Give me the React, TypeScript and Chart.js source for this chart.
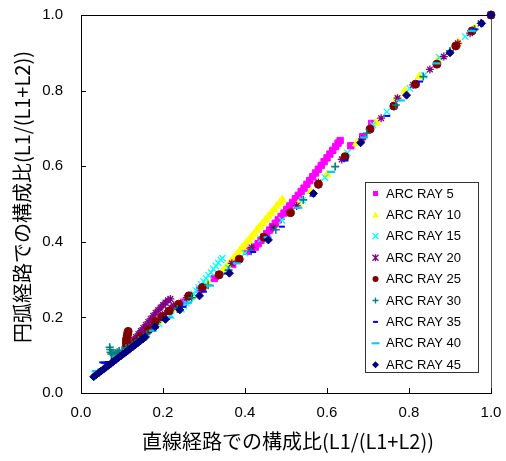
import React, { useEffect, useRef } from "react";
import { Chart, registerables } from "chart.js";
Chart.register(...registerables);

type Pt = [number, number];

const xTitle = "直線経路での構成比(L1/(L1+L2))";
const yTitle = "円弧経路での構成比(L1/(L1+L2))";
const tickValues = [0, 0.2, 0.4, 0.6, 0.8, 1.0];

const seriesNames = [
  "ARC RAY 5", "ARC RAY 10", "ARC RAY 15", "ARC RAY 20", "ARC RAY 25",
  "ARC RAY 30", "ARC RAY 35", "ARC RAY 40", "ARC RAY 45",
];

const ray5: Pt[] = [
  [0.2, 0.2], [0.25, 0.24], [0.29, 0.273], [0.325, 0.303], [0.37, 0.34], [0.405, 0.375],
  [0.425, 0.386], [0.432, 0.395], [0.439, 0.404], [0.446, 0.413], [0.453, 0.422], [0.46, 0.431],
  [0.467, 0.44], [0.474, 0.449], [0.481, 0.458], [0.488, 0.467], [0.495, 0.476], [0.502, 0.486],
  [0.509, 0.495], [0.516, 0.504], [0.523, 0.514], [0.53, 0.523], [0.537, 0.533], [0.544, 0.542],
  [0.551, 0.552], [0.558, 0.562], [0.565, 0.572], [0.572, 0.582], [0.579, 0.592], [0.586, 0.602],
  [0.593, 0.612], [0.6, 0.622], [0.607, 0.632], [0.614, 0.642], [0.621, 0.652], [0.627, 0.661],
  [0.632, 0.668], [0.658, 0.654], [0.687, 0.678], [0.709, 0.713], [1, 1],
];

const ray10: Pt[] = [
  [0.15, 0.155], [0.19, 0.19], [0.23, 0.222], [0.27, 0.255], [0.31, 0.29],
  [0.345, 0.322], [0.352, 0.33], [0.359, 0.339], [0.366, 0.348], [0.373, 0.357], [0.38, 0.367],
  [0.387, 0.376], [0.394, 0.385], [0.401, 0.394], [0.408, 0.403], [0.415, 0.412], [0.422, 0.421],
  [0.429, 0.431], [0.436, 0.44], [0.443, 0.449], [0.45, 0.458], [0.457, 0.467], [0.464, 0.476],
  [0.471, 0.485], [0.478, 0.495], [0.485, 0.504], [0.491, 0.511],
  [0.53, 0.5], [0.56, 0.533], [0.6, 0.578], [0.64, 0.625], [0.672, 0.66], [0.72, 0.715],
  [0.77, 0.78], [0.79, 0.8], [0.825, 0.837], [0.87, 0.88], [0.92, 0.928], [0.96, 0.965], [1, 1],
];

const ray15: Pt[] = [
  [0.13, 0.13], [0.16, 0.158], [0.19, 0.183], [0.22, 0.205],
  [0.245, 0.222], [0.251, 0.23], [0.257, 0.238], [0.263, 0.246], [0.269, 0.254], [0.275, 0.262],
  [0.281, 0.271], [0.287, 0.279], [0.293, 0.287], [0.299, 0.295], [0.305, 0.303], [0.311, 0.311],
  [0.317, 0.319], [0.323, 0.328], [0.329, 0.336], [0.335, 0.344], [0.341, 0.352], [0.345, 0.357],
  [0.36, 0.33], [0.4, 0.37], [0.44, 0.408], [0.49, 0.457], [0.54, 0.51], [0.595, 0.57],
  [0.65, 0.635], [0.712, 0.709], [0.746, 0.744], [0.802, 0.806], [0.837, 0.841], [0.874, 0.888],
  [0.937, 0.943], [0.975, 0.977], [1, 1],
];

const ray20: Pt[] = [
  [0.128, 0.14], [0.134, 0.148], [0.14, 0.156], [0.146, 0.164], [0.152, 0.172], [0.158, 0.18],
  [0.164, 0.188], [0.17, 0.196], [0.176, 0.204], [0.182, 0.212], [0.188, 0.219], [0.194, 0.226],
  [0.2, 0.233], [0.206, 0.239], [0.212, 0.245], [0.218, 0.249],
  [0.14, 0.145], [0.148, 0.153], [0.156, 0.161], [0.164, 0.169], [0.172, 0.177], [0.18, 0.185],
  [0.188, 0.193], [0.196, 0.201], [0.204, 0.209], [0.212, 0.217], [0.22, 0.225], [0.226, 0.232],
  [0.258, 0.252], [0.294, 0.277], [0.335, 0.31], [0.368, 0.343], [0.416, 0.385], [0.469, 0.438],
  [0.526, 0.495], [0.579, 0.557], [0.636, 0.618], [0.685, 0.672], [0.732, 0.727], [0.772, 0.78],
  [0.81, 0.815], [0.851, 0.856], [0.885, 0.89], [0.919, 0.925], [0.949, 0.952], [0.975, 0.978], [1, 1],
];

const ray25: Pt[] = [
  [0.115, 0.163], [0.114, 0.158], [0.113, 0.152], [0.112, 0.146], [0.111, 0.14], [0.111, 0.134],
  [0.111, 0.128], [0.112, 0.123], [0.116, 0.121], [0.121, 0.124], [0.126, 0.128],
  [0.132, 0.134], [0.145, 0.149], [0.165, 0.167], [0.181, 0.189], [0.198, 0.202], [0.215, 0.217],
  [0.238, 0.235], [0.263, 0.257], [0.296, 0.279], [0.337, 0.313], [0.386, 0.354], [0.446, 0.412],
  [0.511, 0.477], [0.579, 0.552], [0.644, 0.625], [0.705, 0.698], [0.763, 0.759], [0.816, 0.817],
  [0.868, 0.87], [0.914, 0.918], [0.954, 0.958], [1, 1],
];

const ray30: Pt[] = [
  [0.07, 0.121], [0.071, 0.115], [0.072, 0.108], [0.074, 0.103], [0.078, 0.104], [0.083, 0.106],
  [0.088, 0.108], [0.093, 0.111], [0.1, 0.113], [0.11, 0.119], [0.125, 0.128], [0.14, 0.14],
  [0.16, 0.156], [0.18, 0.172], [0.205, 0.196], [0.235, 0.222], [0.27, 0.252], [0.31, 0.285],
  [0.36, 0.325], [0.415, 0.375], [0.475, 0.432], [0.542, 0.511], [0.62, 0.599], [0.697, 0.687],
  [0.768, 0.762], [0.835, 0.837], [0.9, 0.905], [0.96, 0.962], [1, 1],
];

const ray35: Pt[] = [
  [0.052, 0.081], [0.056, 0.08], [0.06, 0.079], [0.065, 0.082], [0.08, 0.09], [0.1, 0.104],
  [0.12, 0.118], [0.145, 0.139], [0.175, 0.165], [0.21, 0.196], [0.25, 0.228], [0.3, 0.268],
  [0.355, 0.316], [0.42, 0.373], [0.49, 0.44], [0.565, 0.522], [0.645, 0.615], [0.747, 0.733],
  [0.827, 0.824], [0.9, 0.902], [0.96, 0.962], [1, 1],
];

const ray40: Pt[] = [
  [0.036, 0.058], [0.04, 0.058], [0.05, 0.063], [0.065, 0.072], [0.085, 0.088], [0.11, 0.108],
  [0.14, 0.135], [0.175, 0.165], [0.215, 0.2], [0.26, 0.238], [0.315, 0.284], [0.38, 0.343],
  [0.455, 0.412], [0.53, 0.49], [0.61, 0.585], [0.69, 0.676], [0.78, 0.774], [0.867, 0.872],
  [0.953, 0.958], [1, 1],
];

const ray45: Pt[] = [
  [0.031, 0.043], [0.037, 0.048], [0.043, 0.053], [0.049, 0.058], [0.055, 0.063], [0.061, 0.068],
  [0.067, 0.073], [0.073, 0.078], [0.079, 0.083], [0.085, 0.088], [0.091, 0.093], [0.097, 0.098],
  [0.103, 0.103], [0.109, 0.108], [0.115, 0.113], [0.121, 0.118], [0.127, 0.123], [0.133, 0.128],
  [0.139, 0.133], [0.145, 0.138], [0.151, 0.143], [0.157, 0.148],
  [0.181, 0.175], [0.206, 0.195], [0.241, 0.22], [0.289, 0.257], [0.362, 0.317], [0.457, 0.405],
  [0.567, 0.528], [0.682, 0.662], [0.794, 0.788], [0.9, 0.9], [0.977, 0.978], [1, 1],
];

const seriesData: Pt[][] = [ray5, ray10, ray15, ray20, ray25, ray30, ray35, ray40, ray45];

const seriesColors = ["#FF00FF", "#FFFF00", "#00FFFF", "#800080", "#800000", "#008080", "#0000FF", "#00CCFF", "#000080"];
const seriesStyles = ["rect", "triangle", "crossRot", "star", "circle", "cross", "line", "line", "rectRot"];
const seriesRadius = [4.5, 4.6, 4.5, 4, 4, 4, 3, 4, 4];
const seriesBorder = [1, 1, 1.3, 1.3, 1, 1.6, 2, 2.2, 1];

function drawLegendMarker(ctx: CanvasRenderingContext2D, style: string, color: string, x: number, y: number) {
  ctx.save();
  ctx.fillStyle = color;
  ctx.strokeStyle = color;
  ctx.lineWidth = 1.3;
  ctx.beginPath();
  const r = 3;
  switch (style) {
    case "rect":
      ctx.fillRect(x - 2.5, y - 2.5, 5, 5);
      break;
    case "triangle":
      ctx.moveTo(x, y - 3.5);
      ctx.lineTo(x + 3.2, y + 2.5);
      ctx.lineTo(x - 3.2, y + 2.5);
      ctx.closePath();
      ctx.fill();
      break;
    case "crossRot":
      ctx.moveTo(x - r, y - r); ctx.lineTo(x + r, y + r);
      ctx.moveTo(x + r, y - r); ctx.lineTo(x - r, y + r);
      ctx.stroke();
      break;
    case "star":
      ctx.moveTo(x - r, y - r); ctx.lineTo(x + r, y + r);
      ctx.moveTo(x + r, y - r); ctx.lineTo(x - r, y + r);
      ctx.moveTo(x, y - r - 0.5); ctx.lineTo(x, y + r + 0.5);
      ctx.stroke();
      break;
    case "circle":
      ctx.arc(x, y, 3, 0, Math.PI * 2);
      ctx.fill();
      break;
    case "cross":
      ctx.moveTo(x - r, y); ctx.lineTo(x + r, y);
      ctx.moveTo(x, y - r); ctx.lineTo(x, y + r);
      ctx.stroke();
      break;
    case "line": {
      ctx.lineWidth = 2;
      const h = color === "#0000FF" ? 2.5 : 4;
      ctx.moveTo(x - h, y); ctx.lineTo(x + h, y);
      ctx.stroke();
      break;
    }
    case "rectRot":
      ctx.moveTo(x, y - 3.5); ctx.lineTo(x + 3.5, y); ctx.lineTo(x, y + 3.5); ctx.lineTo(x - 3.5, y);
      ctx.closePath();
      ctx.fill();
      break;
  }
  ctx.restore();
}

const framePlugin = {
  id: "frame",
  beforeDatasetsDraw(chart: any) {
    const { ctx, chartArea: a, scales } = chart;
    ctx.save();
    ctx.lineWidth = 1;
    ctx.strokeStyle = "#000000";
    ctx.beginPath();
    ctx.moveTo(a.left + 0.5, a.top + 0.5);
    ctx.lineTo(a.right, a.top + 0.5);
    ctx.stroke();
    ctx.strokeStyle = "#555555";
    ctx.beginPath();
    ctx.moveTo(a.right + 0.5, a.top);
    ctx.lineTo(a.right + 0.5, a.bottom);
    ctx.stroke();
    ctx.strokeStyle = "#000000";
    ctx.beginPath();
    ctx.moveTo(a.left + 0.5, a.top);
    ctx.lineTo(a.left + 0.5, a.bottom + 0.5);
    ctx.lineTo(a.right + 1, a.bottom + 0.5);
    ctx.stroke();
    ctx.beginPath();
    for (const v of tickValues) {
      const px = Math.round(scales.x.getPixelForValue(v)) + 0.5;
      ctx.moveTo(px, a.bottom);
      ctx.lineTo(px, a.bottom - 5);
      const py = Math.round(scales.y.getPixelForValue(v)) + 0.5;
      ctx.moveTo(a.left, py);
      ctx.lineTo(a.left + 5, py);
    }
    ctx.stroke();
    ctx.restore();
  },
  afterDraw(chart: any) {
    const { ctx, chartArea: a } = chart;
    ctx.save();
    ctx.fillStyle = "#000000";
    ctx.font = '20px "Noto Sans CJK JP"';
    ctx.textAlign = "center";
    ctx.textBaseline = "middle";
    ctx.fillText(xTitle, (a.left + a.right) / 2 + 2, 441);
    ctx.save();
    ctx.translate(22, 197);
    ctx.rotate(-Math.PI / 2);
    ctx.fillText(yTitle, 0, 0);
    ctx.restore();
    const lx = 365, ly = 182, lw = 113, lh = 190;
    ctx.fillStyle = "#ffffff";
    ctx.fillRect(lx, ly, lw, lh);
    ctx.strokeStyle = "#333333";
    ctx.lineWidth = 1;
    ctx.strokeRect(lx + 0.5, ly + 0.5, lw, lh);
    ctx.font = '13px "Liberation Sans"';
    ctx.textAlign = "left";
    ctx.textBaseline = "middle";
    for (let i = 0; i < seriesNames.length; i++) {
      const y = 193.5 + i * 21.4;
      drawLegendMarker(ctx, seriesStyles[i], seriesColors[i], 375.5, y);
      ctx.fillStyle = "#000000";
      ctx.fillText(seriesNames[i], 386, y + 0.5);
    }
    ctx.restore();
  },
};

function zeroPad(s: any) {
  s.paddingTop = 0;
  s.paddingBottom = 0;
  s.paddingLeft = 0;
  s.paddingRight = 0;
}

export default function App() {
  const canvasRef = useRef<HTMLCanvasElement | null>(null);

  useEffect(() => {
    if (!canvasRef.current) return;
    const n = seriesData.length;
    const datasets = seriesData.map((arr, i) => ({
      label: seriesNames[i],
      data: arr.map(([x, y]) => ({ x, y })),
      showLine: false,
      pointStyle: seriesStyles[i] as any,
      pointRadius: seriesRadius[i],
      pointBorderWidth: seriesBorder[i],
      pointBackgroundColor: seriesColors[i],
      pointBorderColor: seriesColors[i],
      backgroundColor: seriesColors[i],
      borderColor: seriesColors[i],
      order: n - i,
      clip: false as any,
    }));
    const chart = new Chart(canvasRef.current, {
      type: "scatter",
      data: { datasets },
      options: {
        responsive: false,
        animation: false,
        events: [],
        layout: { padding: { top: 15, right: 15, left: 0, bottom: 0 } },
        plugins: { legend: { display: false }, tooltip: { enabled: false } },
        scales: {
          x: {
            type: "linear",
            min: 0,
            max: 1,
            grid: { display: false, drawTicks: false },
            border: { display: false },
            ticks: {
              stepSize: 0.2,
              padding: 11,
              color: "#000000",
              font: { family: "Liberation Sans", size: 15 },
              callback: (v: any) => Number(v).toFixed(1),
              maxRotation: 0,
            },
            afterFit: (s: any) => { s.height = 68; zeroPad(s); },
          },
          y: {
            type: "linear",
            min: 0,
            max: 1,
            grid: { display: false, drawTicks: false },
            border: { display: false },
            ticks: {
              stepSize: 0.2,
              padding: 18,
              color: "#000000",
              font: { family: "Liberation Sans", size: 15 },
              callback: (v: any) => Number(v).toFixed(1),
            },
            afterFit: (s: any) => { s.width = 81; zeroPad(s); },
          },
        },
      },
      plugins: [framePlugin],
    });
    return () => chart.destroy();
  }, []);

  return (
    <div style={{ position: "fixed", left: 0, top: 0, width: 506, height: 461, background: "#ffffff" }}>
      <canvas ref={canvasRef} width={506} height={461} style={{ width: 506, height: 461 }} />
    </div>
  );
}
